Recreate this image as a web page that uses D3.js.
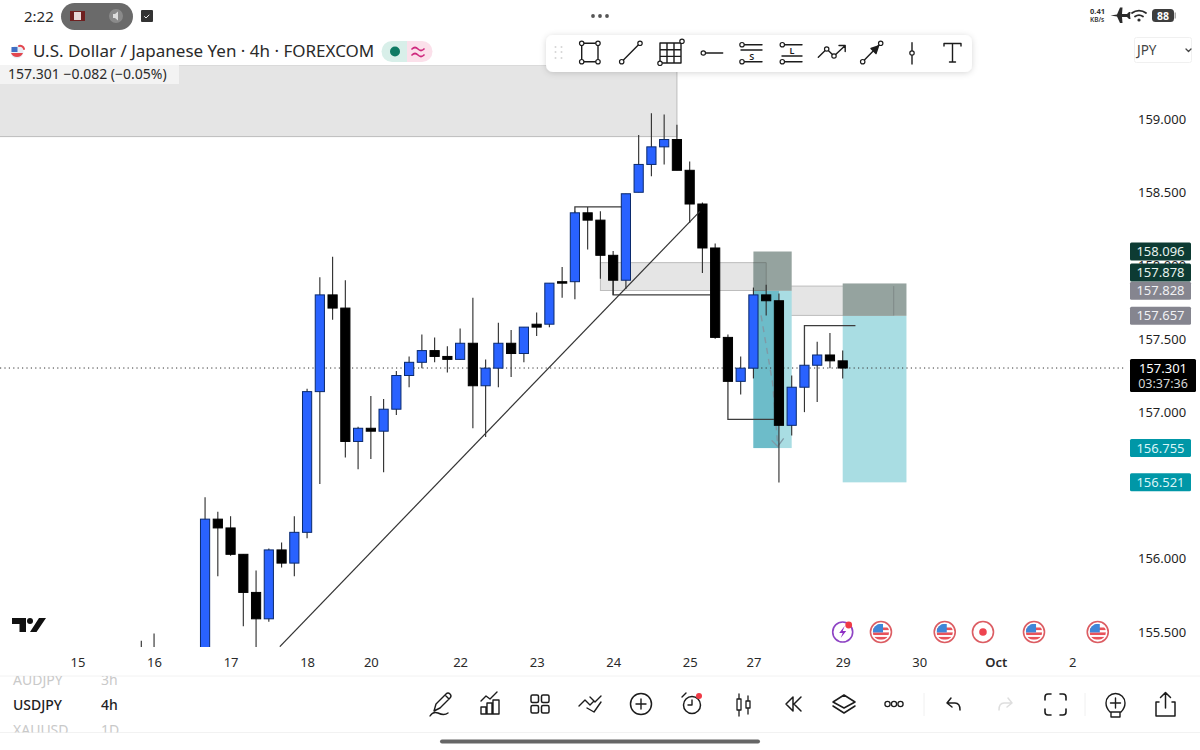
<!DOCTYPE html>
<html>
<head>
<meta charset="utf-8">
<script src="https://cdn.jsdelivr.net/npm/d3@7"></script>
<style>
html,body{margin:0;padding:0;background:#fff;overflow:hidden}
svg{display:block}
text{font-family:"Noto Sans",Inter,sans-serif}
</style>
</head>
<body>
<svg id="c" width="1200" height="750"></svg>
<script>
// ---------- data ----------
const barIndex = d3.range(0, 56);
const opens  = [155.10,155.20,155.15,155.20,155.22,155.20,156.27,156.21,156.03,155.77,155.59,156.06,155.97,156.18,157.14,157.80,157.71,156.80,156.89,156.87,157.02,157.25,157.34,157.42,157.38,157.36,157.47,157.18,157.30,157.47,157.40,157.60,157.60,157.89,157.89,158.36,158.31,158.07,157.90,158.50,158.69,158.81,158.86,158.65,158.42,158.12,157.51,157.21,157.30,157.80,157.76,156.91,157.17,157.32,157.39,157.35];
const highs  = [155.44,155.49,155.30,155.30,155.32,156.42,156.32,156.29,156.03,155.92,156.07,156.11,156.29,157.16,157.92,158.06,157.90,156.90,157.11,157.09,157.28,157.38,157.53,157.51,157.45,157.57,157.78,157.36,157.61,157.56,157.58,157.68,157.88,157.99,158.37,158.40,158.37,158.10,158.49,158.89,159.04,159.03,158.96,158.71,158.43,158.15,157.53,157.38,157.85,157.87,157.81,157.25,157.32,157.48,157.54,157.42];
const lows   = [155.05,155.10,155.05,155.10,155.10,155.15,155.88,156.02,155.54,155.38,155.57,155.94,155.88,156.14,156.51,157.63,156.69,156.61,156.68,156.59,156.98,157.17,157.30,157.34,157.27,157.36,156.89,156.83,157.17,157.24,157.34,157.52,157.58,157.78,157.77,158.11,157.91,157.80,157.84,158.50,158.61,158.69,158.65,158.29,157.95,157.50,157.21,157.12,157.23,157.66,156.52,156.84,157.00,157.07,157.30,157.23];
const closes = [155.20,155.15,155.20,155.22,155.20,156.27,156.21,156.03,155.77,155.59,156.06,155.97,156.18,157.14,157.80,157.71,156.80,156.89,156.87,157.02,157.25,157.34,157.42,157.38,157.36,157.47,157.18,157.30,157.47,157.40,157.58,157.58,157.88,157.88,158.36,158.31,158.07,157.90,158.49,158.69,158.81,158.86,158.65,158.42,158.12,157.51,157.21,157.30,157.80,157.76,156.91,157.17,157.32,157.39,157.35,157.301];

const priceTicks = [155.5,156,157,157.5,158,158.5,159];
const dateTickBars = [-5,1,7,13,18,25,31,37,43,48,55,61,67,73];
const dateTickLabels = ["15","16","17","18","20","22","23","24","25","27","29","30","Oct","2"];

const lastPrice = 157.301;
const priceTagValues = ["158.096","157.828","157.657","156.755","156.521"];
const priceTagKinds = ["stop","grey","grey","target","target"];
const stopTagPrice = 158.0; // 157.878 is pushed up the axis by the tag below it
const stopTagLabel = "157.878";
const countdownLabel = "03:37:36";

// zones: [barFrom, barTo, priceTop, priceBottom]
const greyZones = [[-13,42,159.37,158.88],[36,49,158.02,157.83],[49,59,157.86,157.66]];
const stopZones = [[48,51,158.096,157.828],[55,60,157.878,157.657]];
const targetZones = [[48,51,157.828,156.755],[55,60,157.657,156.521]];
const darkTargetZones = [[48,50,157.828,156.755]];
const greyZoneRightEdges = [[59,157.86,157.66]];

// drawn lines: lists of [bar, price]
const trendLine = [[10.86,155.40],[43.8,158.37]];
const rayLines = [
  [[34,158.36],[34,158.40],[37.7,158.40]],
  [[37,157.90],[37,157.80],[44.6,157.80]],
  [[46,157.21],[46,156.95],[49.6,156.95]],
  [[52,157.32],[52,157.59],[56,157.59]]
];
const forecastPath = [[48.6,157.66],[49.5,157.20],[49.9,156.78]];
const eventBars = [55,58,63,66,70,75];
const eventKinds = ["bolt","flag","flag","dot","flag","flag"];

// ---------- scales ----------
const x = d3.scaleLinear().domain([0,55]).range([141.3,842.7]);
const y = d3.scaleLinear().domain([155.5,159]).range([632,119]);
const BLUE="#2962ff", INK="#000";

const svg = d3.select("#c");
const defs = svg.append("defs");
defs.append("clipPath").attr("id","plot").append("rect").attr("x",0).attr("y",65).attr("width",1125).attr("height",582);
const shadow = defs.append("filter").attr("id","sh").attr("x","-5%").attr("y","-30%").attr("width","110%").attr("height","170%");
shadow.append("feDropShadow").attr("dx",0).attr("dy",1).attr("stdDeviation",3).attr("flood-color","#000").attr("flood-opacity",0.16);

const plot = svg.append("g").attr("clip-path","url(#plot)");

function zones(list, fill, stroke){
  plot.append("g").selectAll("rect").data(list).join("rect")
    .attr("x",d=>x(d[0])).attr("width",d=>x(d[1])-x(d[0]))
    .attr("y",d=>y(d[2])).attr("height",d=>y(d[3])-y(d[2]))
    .attr("fill",fill).attr("stroke",stroke||"none").attr("stroke-width",1);
}
zones(greyZones,"#e5e5e5","#bdbdbd");
zones(targetZones,"#a9dde3");
zones(darkTargetZones,"#6dbcc9");
zones(stopZones,"#95a39f");
// the grey zone seen through the stop area
plot.append("g").selectAll("path").data(greyZoneRightEdges).join("path")
  .attr("d",d=>`M${x(d[0])},${y(d[1])}V${y(d[2])}`).attr("stroke","#7f8a88").attr("fill","none");
plot.append("path").attr("d",`M${x(48)},${y(158.02)}H${x(49)}V${y(157.83)}H${x(48)}`).attr("stroke","#79837f").attr("fill","#849390").attr("fill-opacity",.55);

// last price line
plot.append("line").attr("x1",0).attr("x2",1128).attr("y1",y(lastPrice)).attr("y2",y(lastPrice))
  .attr("stroke","#333").attr("stroke-dasharray","1.2 3.2");

// forecast dashed arrow
const ln = d3.line().x(d=>x(d[0])).y(d=>y(d[1]));
plot.append("path").attr("d",ln(forecastPath)).attr("fill","none").attr("stroke","#7f9aa6").attr("stroke-width",1.4).attr("stroke-dasharray","6 5");
const fe = forecastPath[2];
plot.append("path").attr("d",`M${x(fe[0])-6},${y(fe[1])-4}L${x(fe[0])},${y(fe[1])+2}L${x(fe[0])+6},${y(fe[1])-6}`).attr("fill","none").attr("stroke","#7f9aa6").attr("stroke-width",1.3);

// drawn rays
plot.append("g").selectAll("path").data(rayLines).join("path").attr("d",ln)
  .attr("fill","none").attr("stroke","#3d3d3d").attr("stroke-width",1.3);

// candles
const candles = barIndex.map(i=>({i,o:opens[i],h:highs[i],l:lows[i],c:closes[i]}));
const cg = plot.append("g");
cg.selectAll("line").data(candles).join("line")
  .attr("x1",d=>x(d.i)).attr("x2",d=>x(d.i)).attr("y1",d=>y(d.h)).attr("y2",d=>y(d.l))
  .attr("stroke","#333").attr("stroke-width",1.15);
cg.selectAll("rect").data(candles).join("rect")
  .attr("x",d=>x(d.i)-4.6).attr("width",9.2)
  .attr("y",d=>y(Math.max(d.o,d.c))).attr("height",d=>Math.max(1,Math.abs(y(d.o)-y(d.c))))
  .attr("fill",d=>d.c>d.o?BLUE:INK).attr("stroke",d=>d.c>d.o?"#0a2a6e":INK).attr("stroke-width",1);

// trend line over the candles
plot.append("path").attr("d",ln(trendLine)).attr("fill","none").attr("stroke","#333").attr("stroke-width",1.2);

// axes
const yAxis = d3.axisRight(y).tickValues(priceTicks).tickSize(0).tickPadding(0).tickFormat(d3.format(".3f"));
const ya = svg.append("g").attr("transform","translate(1138,0)").call(yAxis);
ya.select(".domain").remove();
ya.selectAll("text").attr("font-size",13).attr("fill","#1f1f1f").style("font-family",'"Noto Sans",Inter,sans-serif');

const xAxis = d3.axisBottom(x).tickValues(dateTickBars).tickSize(0).tickPadding(0).tickFormat((d,i)=>dateTickLabels[i]);
const xa = svg.append("g").attr("transform","translate(0,658)").call(xAxis);
xa.select(".domain").remove();
xa.selectAll("text").attr("font-size",13).attr("fill","#2a2a2a").style("font-family",'"Noto Sans",Inter,sans-serif')
  .attr("font-weight",(d,i)=>dateTickLabels[i]==="Oct"?600:400);

// price tags
const tagStyle = {stop:["#0d3b33","#e7f2ee"],grey:["#85858f","#f1f1f4"],target:["#0097a7","#d9f5f7"]};
function tag(py,label,kind){
  const s=tagStyle[kind];
  svg.append("rect").attr("x",1130).attr("y",py-9).attr("width",61).attr("height",18).attr("rx",1.5).attr("fill",s[0]);
  svg.append("text").attr("x",1160.5).attr("y",py+4.6).attr("text-anchor","middle").attr("font-size",13).attr("fill",s[1]).text(label);
}
priceTagValues.forEach((v,i)=>tag(y(+v),v,priceTagKinds[i]));
tag(y(stopTagPrice)+7,stopTagLabel,"stop");
svg.append("rect").attr("x",1130).attr("y",y(lastPrice)-9).attr("width",66).attr("height",33).attr("rx",1.5).attr("fill","#000");
svg.append("text").attr("x",1163).attr("y",y(lastPrice)+4.6).attr("text-anchor","middle").attr("font-size",13).attr("fill","#fff").text(lastPrice.toFixed(3));
svg.append("text").attr("x",1163).attr("y",y(lastPrice)+19.5).attr("text-anchor","middle").attr("font-size",12.5).attr("fill","#d6d6d6").text(countdownLabel);

// event markers
function usFlag(g,r){
  const id="f"+Math.random().toString(36).slice(2,8);
  g.append("clipPath").attr("id",id).append("circle").attr("r",r);
  const f=g.append("g").attr("clip-path",`url(#${id})`);
  f.append("rect").attr("x",-r).attr("y",-r).attr("width",2*r).attr("height",2*r).attr("fill","#fff");
  [-0.55,0.05,0.6].forEach(k=>f.append("rect").attr("x",-r).attr("y",k*r).attr("width",2*r).attr("height",r*0.32).attr("fill","#e8525a"));
  f.append("rect").attr("x",-r).attr("y",-r).attr("width",r*1.25).attr("height",r*1.05).attr("fill","#3f86d8");
}
const ev = svg.append("g").selectAll("g").data(eventBars).join("g").attr("transform",d=>`translate(${x(d)},632)`);
ev.each(function(d,i){
  const g=d3.select(this), k=eventKinds[i];
  if(k==="flag"){
    g.append("circle").attr("r",10.5).attr("fill","#fff").attr("stroke","#dc5d63").attr("stroke-width",1.6);
    usFlag(g,8.2);
  } else if(k==="dot"){
    g.append("circle").attr("r",10.5).attr("fill","#fff").attr("stroke","#dc5d63").attr("stroke-width",1.6);
    g.append("circle").attr("r",3.8).attr("fill","#ee4450");
  } else {
    g.append("circle").attr("r",10).attr("fill","#fff").attr("stroke","#8e44c4").attr("stroke-width",1.6);
    g.append("path").attr("d","M2,-6L-3.5,1H0L-2,6L3.5,-1H0Z").attr("fill","#8e2fc4");
    g.append("circle").attr("cx",6).attr("cy",-7).attr("r",3.4).attr("fill","#f03a46");
  }
});

// ---------- app chrome ----------
const S="#1c1c1c";
function T(xx,yy,s,size,fill,anchor,extra){
  const t=svg.append("text").attr("x",xx).attr("y",yy).attr("font-size",size).attr("fill",fill||S).attr("text-anchor",anchor||"start").text(s);
  if(extra) t.attr("font-weight",extra);
  return t;
}
function P(d,o={}){return svg.append("path").attr("d",d).attr("fill",o.fill||"none").attr("stroke",o.stroke===undefined?S:o.stroke).attr("stroke-width",o.w||1.4).attr("stroke-linejoin","round").attr("stroke-linecap","round");}
function C(cx,cy,r,o={}){return svg.append("circle").attr("cx",cx).attr("cy",cy).attr("r",r).attr("fill",o.fill||"#fff").attr("stroke",o.stroke===undefined?S:o.stroke).attr("stroke-width",o.w||1.2);}

svg.insert("rect",":first-child").attr("width",1200).attr("height",750).attr("fill","#fff");

// status bar
T(24,22,"2:22",15,"#2b2b2b");
svg.append("rect").attr("x",61).attr("y",3).attr("width",72).attr("height",27).attr("rx",13.5).attr("fill","#6a6a6a");
svg.append("rect").attr("x",70).attr("y",11).attr("width",15).attr("height",10).attr("fill","#6e2020");
svg.append("rect").attr("x",74).attr("y",12).attr("width",7).attr("height",8).attr("fill","#e6d8d8");
C(116,16,7,{fill:"#8a8a8a",stroke:"none"});
P("M113,14h2l3,-2.5v9l-3,-2.5h-2z",{fill:"#ddd",stroke:"none"});
svg.append("rect").attr("x",141).attr("y",10).attr("width",12).attr("height",12).attr("rx",1).attr("fill","#333");
P("M144.5,16.5l1.5,1.5l3,-3",{stroke:"#eee",w:1});
[593,600,607].forEach(c=>C(c,16,1.9,{fill:"#555",stroke:"none"}));
T(1090,14,"0.41",7.5,"#333",null,700); T(1090,22,"KB/s",6.5,"#333",null,600);
P("M1110.5,15.5L1117,14.5L1120,7.5H1122.5L1122,14H1127L1129,12H1130.5L1130,15.5L1130.5,19H1129L1127,17H1122L1122.5,23H1120L1117,16.5L1110.5,15.5Z",{fill:"#2b2b2b",stroke:"none"});
P("M1132,13a11.5,11.5 0 0 1 14,0M1135,16.5a7,7 0 0 1 8,0",{stroke:"#2b2b2b",w:1.8});
C(1139,20,1.6,{fill:"#2b2b2b",stroke:"none"});
svg.append("rect").attr("x",1152).attr("y",9).attr("width",22).attr("height",13).attr("rx",3.5).attr("fill","#3d3d3d");
svg.append("rect").attr("x",1174.5).attr("y",12.5).attr("width",1.5).attr("height",6).attr("fill","#aaa");
T(1163,20,"88",10.5,"#fff","middle",700);

// header
C(17,52,6.5,{fill:"#e8eef5",stroke:"none"});
P("M11,53a6.5,6.5 0 0 0 12,0z",{fill:"#e2474f",stroke:"none"});
svg.append("rect").attr("x",11.5).attr("y",47).attr("width",6).attr("height",5).attr("fill","#3f6fc4");
P("M19,46a4,4 0 0 1 5,3",{stroke:"#e2474f",w:2});
T(33,57,"U.S. Dollar / Japanese Yen · 4h · FOREXCOM",17,"#2a2a2a");
svg.append("path").attr("d","M407,41H392a10.5,10.5 0 0 0 0,21H407z").attr("fill","#d8efe9");
svg.append("path").attr("d","M407,41H422a10.5,10.5 0 0 1 0,21H407z").attr("fill","#fbe0ea");
C(395,51.5,5,{fill:"#0e7a63",stroke:"none"});
P("M412,49q3,-3 6,0t6,0M412,55q3,-3 6,0t6,0",{stroke:"#cf2a7e",w:1.7});

// legend
svg.append("rect").attr("x",0).attr("y",65).attr("width",179).attr("height",19).attr("fill","#f3f3f3");
T(8,79,"157.301  −0.082 (−0.05%)",14,"#2a2a2a");

// JPY selector
svg.append("rect").attr("x",1134.5).attr("y",37.5).attr("width",57).attr("height",25).attr("rx",2).attr("fill","#fff").attr("stroke","#f0f0f0");
T(1137,55,"JPY",13.5,"#444");
P("M1186,49l2.5,2.5l2.5,-2.5",{stroke:"#444",w:1.3});

// drawing toolbar
svg.append("rect").attr("x",546).attr("y",35).attr("width",426).attr("height",37).attr("rx",7).attr("fill","#fff").attr("filter","url(#sh)");
d3.cross([555.5,561.5],[47,52,58]).forEach(([a,b])=>C(a,b,1,{fill:"#d5d5d5",stroke:"none"}));
const R=2.2;
P("M581.7,43.3H598V61.7H581.7Z");
[[581.7,43.3],[598,43.3],[581.7,61.7],[598,61.7]].forEach(p=>C(p[0],p[1],R));
P("M621.7,61.7L640,43.3"); C(621.7,61.7,R); C(640,43.3,R);
P("M660,43H681V63H660ZM667,43V63M674,43V63M660,49.7H681M660,56.4H681"); C(682,41.3,R); C(660,63.3,R);
P("M703.3,53H722.7"); C(703.3,53,R);
P("M742,44.7H762M741,50H762M742,61.7H762"); C(742,44.7,R); C(742,61.7,R); T(751.7,59.5,"S",9,S,"middle",600);
P("M782.3,44.7H802M782,56H802M782.3,61.7H802"); C(782.3,44.7,R); C(782.3,61.7,R); T(792,53.5,"L",9,S,"middle",600);
P("M818.3,57.3L826.7,49L834,56L845,45.7M839,45.5H845.2V51.5"); C(826.7,49,R); C(834,56,R);
P("M862.7,61.7L880.7,43.3"); C(862.7,61.7,R); C(880.7,43.3,R); P("M871,48.5L878.5,46L876,53.5Z",{fill:S});
P("M912,42.7V64"); C(912,53,R);
P("M944,46V43.5H961V46M952.5,43.5V62M949.5,62H955.5");

// TradingView mark
svg.append("path").attr("d","M12,618H26V632H19.5V624H12Z M39,618H46L36.5,632H30Z").attr("fill","#111");
C(30,621,3,{fill:"#111",stroke:"none"});

// bottom area
svg.append("line").attr("x1",0).attr("x2",1200).attr("y1",676).attr("y2",676).attr("stroke","#f2f2f2");
svg.append("line").attr("x1",0).attr("x2",1200).attr("y1",732.5).attr("y2",732.5).attr("stroke","#f2f2f2");
defs.append("clipPath").attr("id","wl").append("rect").attr("x",0).attr("y",676).attr("width",200).attr("height",56.5);
const wlNames=["AUDJPY","USDJPY","XAUUSD"], wlTf=["3h","4h","1D"], wlY=[685,710,735], wlFill=["#c9c9c9","#222","#c9c9c9"];
const wl=svg.append("g").attr("clip-path","url(#wl)");
wlNames.forEach((n,i)=>{
  wl.append("text").attr("x",13).attr("y",wlY[i]).attr("font-size",14).attr("font-weight",i==1?500:400).attr("fill",wlFill[i]).text(n);
  wl.append("text").attr("x",101).attr("y",wlY[i]).attr("font-size",14).attr("font-weight",i==1?500:400).attr("fill",wlFill[i]).text(wlTf[i]);
});
// bottom toolbar icons
P("M434,711L436,704L446,694Q448,692 450,694Q452,696 450,698L440,708ZM445,695L449,699M430,716Q433,711 438,713Q444,716 448,713",{w:1.4});
P("M481,714V707H486V714ZM487,714V703H492V714ZM493,714V700H499V714ZM481,714H499M481,701L486,696L490,699L497,692",{w:1.4});
[[531,695],[541.5,695],[531,705.5],[541.5,705.5]].forEach(p=>svg.append("rect").attr("x",p[0]).attr("y",p[1]).attr("width",7.5).attr("height",7.5).attr("rx",1.5).attr("fill","none").attr("stroke",S).attr("stroke-width",1.5));
P("M579,706L585,700L590,705L594,701M587,708L594,712L601,702M590,697L595,702L601,696",{w:1.4});
C(641,704,10.5,{fill:"none",w:1.5}); P("M636,704H646M641,699V709");
C(692,705,8.5,{fill:"none",w:1.5}); P("M692,700V705H688M682,697L686,693"); C(699,696,3,{fill:"#f03a46",stroke:"none"});
P("M737,699H741V710H737ZM739,694V699M739,710V716M746,701H750V708H746ZM748,696V701M748,708V714",{w:1.3});
P("M793,697L786,704L793,711ZM801,697L794,704L801,711",{w:1.5});
P("M844,695L855,702L844,708L833,702ZM833,706L844,713L855,706",{w:1.5});
[887.5,894,900.5].forEach(c=>C(c,704,2.6,{fill:"none",w:1.3}));
svg.append("line").attr("x1",924).attr("x2",924).attr("y1",693).attr("y2",716).attr("stroke","#f0f0f0");
svg.append("line").attr("x1",1085).attr("x2",1085).attr("y1",693).attr("y2",716).attr("stroke","#f0f0f0");
P("M951,698L947,703L952,707M947,703H955Q960,703 960,710",{w:1.5});
P("M1008,698L1012,703L1007,707M1012,703H1004Q999,703 999,710",{stroke:"#dedede",w:1.5});
P("M1045,700V697Q1045,694 1048,694H1051M1060,694H1063Q1066,694 1066,697V700M1066,709V712Q1066,715 1063,715H1060M1051,715H1048Q1045,715 1045,712V709",{w:1.6});
P("M1110,712Q1106,708 1106,703A9,9 0 0 1 1125,703Q1125,708 1121,712ZM1111,712V717H1120V712M1110.5,703H1120.5M1115.5,698V708",{w:1.4});
P("M1159,702H1156V716H1175V702H1172M1165.5,708V693M1160.5,697.5L1165.5,692.5L1170.5,697.5",{w:1.5});
svg.append("rect").attr("x",440).attr("y",739.5).attr("width",320).attr("height",4).attr("rx",2).attr("fill","#666");
</script>
</body>
</html>
